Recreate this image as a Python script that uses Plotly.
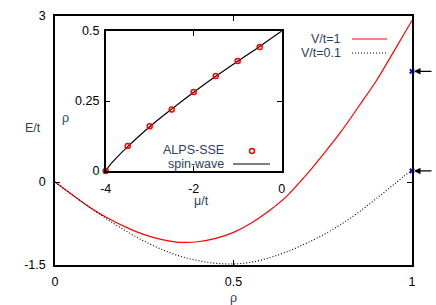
import plotly.graph_objects as go

# ---------------- data ----------------
rho = [0, 0.05, 0.1, 0.15, 0.2, 0.25, 0.3, 0.35, 0.4, 0.45, 0.5,
       0.55, 0.6, 0.65, 0.7, 0.75, 0.8, 0.85, 0.9, 0.95, 1.0]
E_V1 = [0, -0.24, -0.47, -0.66, -0.82, -0.95, -1.04, -1.09, -1.08, -1.02, -0.91,
        -0.74, -0.52, -0.25, 0.10, 0.49, 0.90, 1.36, 1.83, 2.37, 2.92]
E_V01 = [0, -0.24, -0.47, -0.69, -0.89, -1.07, -1.22, -1.34, -1.42, -1.47, -1.48,
         -1.45, -1.37, -1.26, -1.12, -0.96, -0.77, -0.55, -0.30, -0.04, 0.22]
end_rho = [1, 1]
end_E = [2.0, 0.2]

mu_sse = [-4, -3.5, -3, -2.5, -2, -1.5, -1, -0.5]
rho_sse = [0, 0.089, 0.16, 0.22, 0.282, 0.339, 0.393, 0.443]
mu_sw = [-4, -3.9, -3.75, -3.5, -3, -2.5, -2, -1.5, -1, -0.5, 0]
rho_sw = [0, 0.022, 0.048, 0.087, 0.158, 0.221, 0.281, 0.338, 0.392, 0.445, 0.5]

main_xticks = [0, 0.5, 1]
main_xticklabels = ["0", "0.5", "1"]
main_yticks = [-1.5, 0, 3]
main_yticklabels = ["-1.5", "0", "3"]
ins_xticks = [-4, -2, 0]
ins_xticklabels = ["-4", "-2", "0"]
ins_yticks = [0, 0.25, 0.5]
ins_yticklabels = ["0", "0.25", "0.5"]

# ---------------- layout helpers ----------------
W, H = 436, 305
L, R, T, B = 55, 412, 16, 265
FONT = "Liberation Sans, Arial, sans-serif"
FS = 12.5
DOT = "1px,2px"


def px(x):
    return (x - L) / (R - L)


def py(y):
    return (B - y) / (B - T)


fig = go.Figure()

fig.add_trace(go.Scatter(x=rho, y=E_V1, mode="lines", line=dict(color="#ff0000", width=1.2),
                         line_shape="spline", showlegend=False))
fig.add_trace(go.Scatter(x=rho, y=E_V01, mode="lines", line=dict(color="black", width=1.1, dash=DOT),
                         line_shape="spline", showlegend=False))
fig.add_trace(go.Scatter(x=end_rho, y=end_E, mode="markers", cliponaxis=False,
                         marker=dict(symbol="x", size=5, color="#0000ee", line=dict(width=0)),
                         showlegend=False))

fig.add_trace(go.Scatter(x=mu_sw, y=rho_sw, mode="lines", line=dict(color="black", width=1.2),
                         line_shape="spline", xaxis="x2", yaxis="y2", showlegend=False))
fig.add_trace(go.Scatter(x=mu_sse, y=rho_sse, mode="markers", cliponaxis=False,
                         marker=dict(symbol="circle-open", size=5, color="#ff0000", line=dict(width=1.5)),
                         xaxis="x2", yaxis="y2", showlegend=False))

axis_common = dict(showline=True, linecolor="black", linewidth=1.5, mirror="ticks",
                   ticks="inside", ticklen=5, tickcolor="black", tickwidth=1.2,
                   showgrid=False, zeroline=False,
                   tickfont=dict(family=FONT, size=FS, color="black"))

fig.update_layout(
    width=W, height=H,
    margin=dict(l=L, r=W - R, t=T, b=H - B, autoexpand=False),
    paper_bgcolor="white", plot_bgcolor="white",
    xaxis=dict(range=[0, 1], tickvals=main_xticks, ticktext=main_xticklabels,
               ticklabelstandoff=4, domain=[0, 1], **axis_common),
    yaxis=dict(range=[-1.5, 3], tickvals=main_yticks, ticktext=main_yticklabels,
               ticklabelstandoff=5, domain=[0, 1], **axis_common),
    xaxis2=dict(range=[-4, 0], tickvals=ins_xticks, ticktext=ins_xticklabels,
                domain=[px(105.7), px(281.7)], anchor="y2", ticklabelstandoff=5, **axis_common),
    yaxis2=dict(range=[0, 0.5], tickvals=ins_yticks, ticktext=ins_yticklabels,
                domain=[py(171), py(31)], anchor="x2", ticklabelstandoff=2, **axis_common),
    showlegend=False,
)

ann = []
# axis titles
ann.append(dict(text="E/t", x=px(33), y=py(128), xref="paper", yref="paper", showarrow=False,
                xanchor="center", yanchor="middle", font=dict(family=FONT, size=FS)))
ann.append(dict(text="ρ", x=px(233), y=py(298), xref="paper", yref="paper", showarrow=False,
                xanchor="center", yanchor="middle", font=dict(family=FONT, size=FS)))
ann.append(dict(text="ρ", x=px(65), y=py(118), xref="paper", yref="paper", showarrow=False,
                xanchor="center", yanchor="middle", font=dict(family=FONT, size=FS)))
ann.append(dict(text="μ/t", x=px(201), y=py(201), xref="paper", yref="paper", showarrow=False,
                xanchor="center", yanchor="middle", font=dict(family=FONT, size=FS)))
# main legend
ann.append(dict(text="V/t=1", x=px(343), y=py(39), xref="paper", yref="paper", showarrow=False,
                xanchor="right", yanchor="middle", font=dict(family=FONT, size=FS)))
ann.append(dict(text="V/t=0.1", x=px(343), y=py(53), xref="paper", yref="paper", showarrow=False,
                xanchor="right", yanchor="middle", font=dict(family=FONT, size=FS)))
# inset legend
ann.append(dict(text="ALPS-SSE", x=px(226), y=py(150), xref="paper", yref="paper", showarrow=False,
                xanchor="right", yanchor="middle", font=dict(family=FONT, size=FS)))
ann.append(dict(text="spin-wave", x=px(226), y=py(164), xref="paper", yref="paper", showarrow=False,
                xanchor="right", yanchor="middle", font=dict(family=FONT, size=FS)))
# arrows pointing at end values
for yv in end_E:
    ann.append(dict(x=1, y=yv, xref="x", yref="y", ax=21, ay=0, text="", showarrow=True,
                    arrowhead=2, arrowsize=1, arrowwidth=1.3, arrowcolor="black", standoff=2))
fig.update_layout(annotations=ann)

shapes = [
    dict(type="line", xref="paper", yref="paper", x0=px(352), x1=px(387), y0=py(39), y1=py(39),
         line=dict(color="#ff0000", width=1.2)),
    dict(type="line", xref="paper", yref="paper", x0=px(352), x1=px(387), y0=py(53), y1=py(53),
         line=dict(color="black", width=1.1, dash=DOT)),
    dict(type="line", xref="paper", yref="paper", x0=px(233), x1=px(270), y0=py(164), y1=py(164),
         line=dict(color="black", width=1.2)),
    dict(type="circle", xref="paper", yref="paper", x0=px(249.5), x1=px(254.5), y0=py(148.5), y1=py(153.5),
         line=dict(color="#ff0000", width=1.5)),
]
fig.update_layout(shapes=shapes)

fig.write_html("out.html", config={"displayModeBar": False},
               post_script="document.body.style.margin='0px';document.body.style.overflow='hidden';")
